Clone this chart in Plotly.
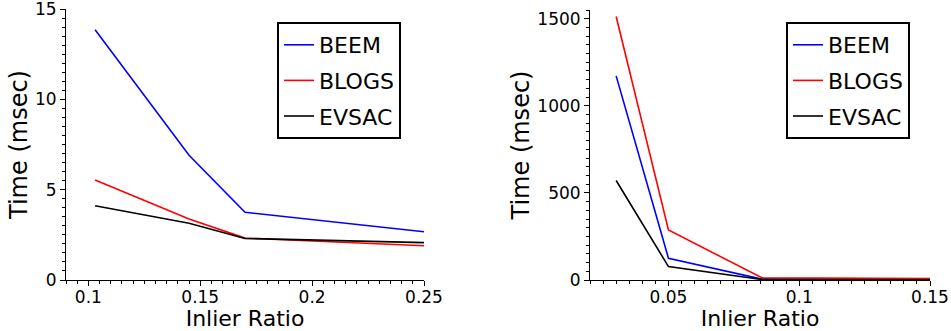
import plotly.graph_objects as go

# ---- data ----
series_names = ["BEEM", "BLOGS", "EVSAC"]
series_colors = ["#0000ff", "#ff0000", "#000000"]

left_x = [0.103, 0.145, 0.170, 0.250]
left_beem = [13.85, 6.9, 3.75, 2.67]
left_blogs = [5.53, 3.38, 2.32, 1.90]
left_evsac = [4.11, 3.14, 2.30, 2.07]

right_x = [0.030, 0.050, 0.0857, 0.150]
right_beem = [1172, 125, 5, 2]
right_blogs = [1513, 287, 13, 8]
right_evsac = [571, 77, 3, 1]

left_xticks = [0.1, 0.15, 0.2, 0.25]
left_xticktext = ["0.1", "0.15", "0.2", "0.25"]
left_yticks = [0, 5, 10, 15]
right_xticks = [0.05, 0.1, 0.15]
right_xticktext = ["0.05", "0.1", "0.15"]
right_yticks = [0, 500, 1000, 1500]

x_title = "Inlier Ratio"
y_title = "Time (msec)"

W, H = 951, 331
FONT = "DejaVu Sans"

fig = go.Figure()

left_vals = [left_beem, left_blogs, left_evsac]
right_vals = [right_beem, right_blogs, right_evsac]

for i, (name, col) in enumerate(zip(series_names, series_colors)):
    fig.add_trace(go.Scatter(x=left_x, y=left_vals[i], mode="lines", name=name,
                             line=dict(color=col, width=1.6), xaxis="x", yaxis="y",
                             legend="legend", legendgroup="L" + name))
for i, (name, col) in enumerate(zip(series_names, series_colors)):
    fig.add_trace(go.Scatter(x=right_x, y=right_vals[i], mode="lines", name=name,
                             line=dict(color=col, width=1.6), xaxis="x2", yaxis="y2",
                             legend="legend2", legendgroup="R" + name))

def px_x(p):
    return p / W

def px_y(p):
    return (H - p) / H

axis_common = dict(showline=True, linecolor="black", linewidth=1, showgrid=False,
                   zeroline=False, ticks="outside", ticklen=5, tickcolor="black",
                   tickwidth=1, tickfont=dict(family=FONT, size=17, color="black"),
                   mirror=False, automargin=False, ticklabeloverflow="allow")

fig.update_layout(
    width=W, height=H, autosize=False,
    margin=dict(l=0, r=0, t=0, b=0, pad=0, autoexpand=False),
    paper_bgcolor="white", plot_bgcolor="white",
    font=dict(family=FONT, color="black"),
    xaxis=dict(domain=[px_x(66), px_x(424)], range=[0.09, 0.25], anchor="y",
               tickmode="array", tickvals=left_xticks, ticktext=left_xticktext,
               ticklabelstandoff=-3,
               minor=dict(dtick=0.005, ticks="outside", ticklen=3, tickcolor="black"),
               title=dict(text=x_title, font=dict(family=FONT, size=22), standoff=5),
               **axis_common),
    yaxis=dict(domain=[px_y(280), px_y(9)], range=[0, 15.001], anchor="x",
               tickmode="array", tickvals=left_yticks,
               minor=dict(dtick=0.5, ticks="outside", ticklen=3, tickcolor="black"),
               title=dict(text=y_title, font=dict(family=FONT, size=24), standoff=0),
               **axis_common),
    xaxis2=dict(domain=[px_x(590), px_x(930)], range=[0.02, 0.15], anchor="y2",
                tickmode="array", tickvals=right_xticks, ticktext=right_xticktext,
                ticklabelstandoff=-3,
                minor=dict(dtick=0.005, ticks="outside", ticklen=3, tickcolor="black"),
                title=dict(text=x_title, font=dict(family=FONT, size=22), standoff=5),
                **axis_common),
    yaxis2=dict(domain=[px_y(280), px_y(10)], range=[0, 1550], anchor="x2",
                tickmode="array", tickvals=right_yticks,
                minor=dict(dtick=50, ticks="outside", ticklen=3, tickcolor="black"),
                title=dict(text=y_title, font=dict(family=FONT, size=24), standoff=0),
                **axis_common),
    legend=dict(x=px_x(277), y=px_y(22), xanchor="left", yanchor="top",
                bordercolor="black", borderwidth=2, bgcolor="white",
                font=dict(family=FONT, size=22, color="black"),
                tracegroupgap=4, itemwidth=30),
    legend2=dict(x=px_x(786), y=px_y(22), xanchor="left", yanchor="top",
                 bordercolor="black", borderwidth=2, bgcolor="white",
                 font=dict(family=FONT, size=22, color="black"),
                 tracegroupgap=4, itemwidth=30),
)

fig.write_html("out.html")
